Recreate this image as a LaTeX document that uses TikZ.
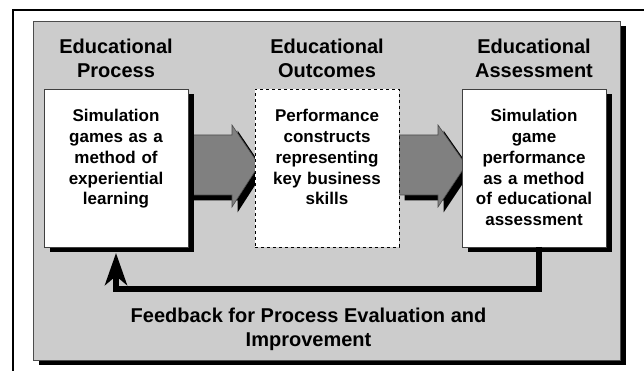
\documentclass[tikz,border=0pt]{standalone}
\usepackage{fontspec}
\setmainfont{Liberation Sans}
\usepackage{tikz}
\usetikzlibrary{shadows}
\usetikzlibrary{arrows.meta}
\usetikzlibrary{positioning, backgrounds}
\definecolor{PANEL}{rgb}{0.8,0.8,0.8}
\definecolor{ARROWGREY}{rgb}{0.5,0.5,0.5}

\tikzset{
  blackshadow/.style={drop shadow={shadow xshift=5.5pt, shadow yshift=-5.5pt, fill=black, opacity=1}},
  simbox/.style={draw=black!75, line width=0.8pt, fill=white, outer sep=0pt, inner xsep=5pt, inner ysep=0pt,
    text width=134pt, align=center, text height=33pt, text depth=125pt, font=\fontsize{17}{20.7}\selectfont\bfseries},
  heading/.style={inner sep=0pt, align=center, font=\fontsize{20}{24}\selectfont\bfseries},
  bigarrow/.style={fill=ARROWGREY, draw=black!70, line width=0.6pt, blackshadow},
  fbline/.style={line width=6pt, -{Stealth[length=32pt,width=22pt,inset=9pt]}}
}

\begin{document}
\begin{tikzpicture}[x=1pt, y=1pt]
\useasboundingbox (0,0) rectangle (644,371);
\draw[line width=1.2pt] (644,361) -- (13,361) -- (13,0); % open frame
\begin{scope}[on background layer]
\node[draw=black!70, line width=0.6pt, fill=PANEL, minimum width=587pt, minimum height=339pt, blackshadow] (panel) at (326.5,180.5) {};
\end{scope}

\node[simbox, blackshadow] (proc) at (116,203) {Simulation\\games as a\\method of\\experiential\\learning};
\node[simbox, draw=black, line width=0.6pt, dashed, right=67pt of proc] (outc) {Performance\\constructs\\representing\\key business\\skills};
\node[simbox, blackshadow, right=63pt of outc] (assess) {Simulation\\game\\performance\\as a method\\of educational\\assessment};

\node[heading, above=11pt of proc] (hproc) {Educational\\Process};
\node[heading, above=11pt of outc] (houtc) {Educational\\Outcomes};
\node[heading, above=11pt of assess] (hassess) {Educational\\Assessment};

\begin{scope}[on background layer]
\draw[bigarrow] ([yshift=33pt]proc.east) -- ([xshift=-23pt,yshift=33pt]outc.west) -- ([xshift=-23pt,yshift=43pt]outc.west)
  -- ([xshift=4pt,yshift=3pt]outc.west) -- ([xshift=-23pt,yshift=-39pt]outc.west) -- ([xshift=-23pt,yshift=-27pt]outc.west)
  -- ([yshift=-27pt]proc.east) -- cycle;
\draw[bigarrow] ([yshift=33pt]outc.east) -- ([xshift=-24pt,yshift=33pt]assess.west) -- ([xshift=-24pt,yshift=43pt]assess.west)
  -- ([xshift=4pt,yshift=3pt]assess.west) -- ([xshift=-24pt,yshift=-39pt]assess.west) -- ([xshift=-24pt,yshift=-27pt]assess.west)
  -- ([yshift=-27pt]outc.east) -- cycle;
\end{scope}

\draw[fbline] ([xshift=4.5pt]assess.south) -- ++(0,-42) -| ([yshift=-6pt]proc.south);
\node[heading, anchor=north] (fbtext) at (308.5,63.5) {Feedback for Process Evaluation and\\Improvement};
\end{tikzpicture}
\end{document}
